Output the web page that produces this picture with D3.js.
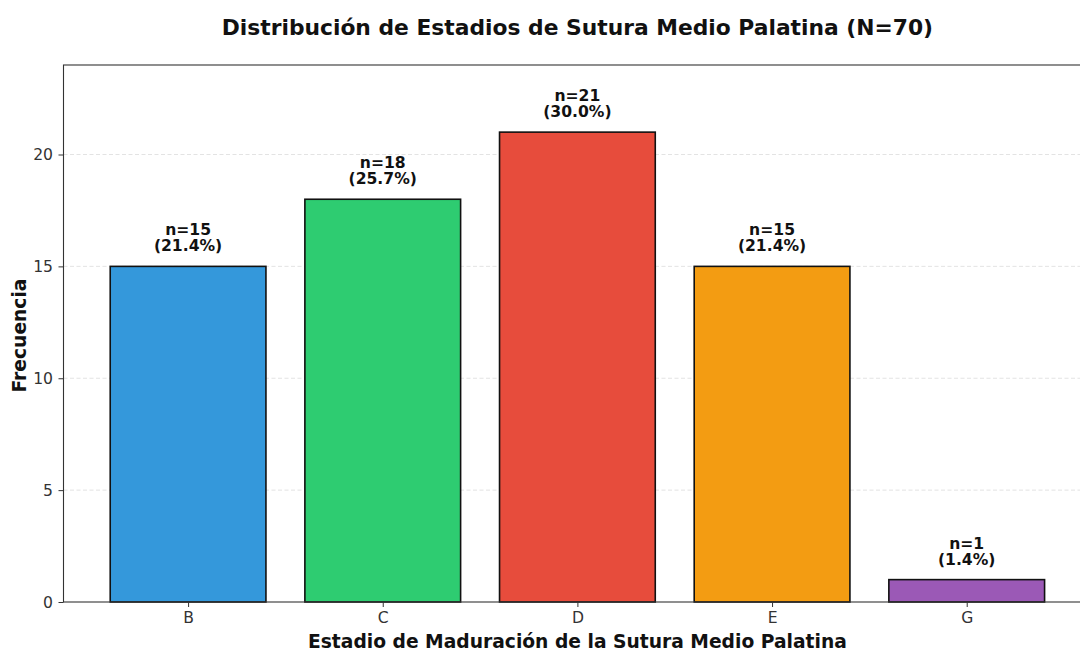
<!DOCTYPE html>
<html>
<head>
<meta charset="utf-8">
<script src="https://cdn.jsdelivr.net/npm/d3@7"></script>
<style>
html,body{margin:0;padding:0;background:#fff;overflow:hidden;}
svg{display:block;}
</style>
</head>
<body>
<div id="chart"></div>
<script>
const categories = ["B", "C", "D", "E", "G"];
const counts = [15, 18, 21, 15, 1];
const percents = ["21.4%", "25.7%", "30.0%", "21.4%", "1.4%"];
const colors = ["#3498db", "#2ecc71", "#e74c3c", "#f39c12", "#9b59b6"];
const yTicks = [0, 5, 10, 15, 20];
const title = "Distribución de Estadios de Sutura Medio Palatina (N=70)";
const xTitle = "Estadio de Maduración de la Sutura Medio Palatina";
const yTitle = "Frecuencia";

const W = 1080, H = 652;
const m = {left: 63.5, right: 1091.3, top: 65, bottom: 602};
const font = "'DejaVu Sans', sans-serif";

const svg = d3.select("#chart").append("svg").attr("width", W).attr("height", H);

const x = d3.scaleLinear().domain([-0.64, categories.length - 1 + 0.64]).range([m.left, m.right]);
const y = d3.scaleLinear().domain([0, 24]).range([m.bottom, m.top]);
const bw = x(0.8) - x(0);

// grid
svg.append("g").selectAll("line").data(yTicks.filter(d => d > 0)).join("line")
  .attr("x1", m.left).attr("x2", m.right)
  .attr("y1", d => y(d)).attr("y2", d => y(d))
  .attr("stroke", "#b0b0b0").attr("stroke-opacity", 0.4)
  .attr("stroke-width", 0.9).attr("stroke-dasharray", "4,2.5");

// bars
svg.append("g").selectAll("rect").data(counts).join("rect")
  .attr("x", (d, i) => x(i) - bw / 2)
  .attr("y", d => y(d))
  .attr("width", bw)
  .attr("height", d => y(0) - y(d))
  .attr("fill", (d, i) => colors[i])
  .attr("stroke", "#111").attr("stroke-width", 1.6);

// annotations
const ann = svg.append("g").attr("font-family", font).attr("font-weight", "bold")
  .attr("font-size", 15.6).attr("fill", "#111").attr("text-anchor", "middle");
counts.forEach((d, i) => {
  ann.append("text").attr("x", x(i)).attr("y", y(d) - 31).text("n=" + d);
  ann.append("text").attr("x", x(i)).attr("y", y(d) - 15).text("(" + percents[i] + ")");
});

// axes
const xAxis = d3.axisBottom(x).tickValues(d3.range(categories.length))
  .tickFormat(i => categories[i]).tickSize(5).tickPadding(5);
const gx = svg.append("g").attr("transform", `translate(0,${m.bottom})`).call(xAxis);
const yAxis = d3.axisLeft(y).tickValues(yTicks).tickSize(5).tickPadding(5.5);
const gy = svg.append("g").attr("transform", `translate(${m.left},0)`).call(yAxis);
[gx, gy].forEach(g => {
  g.select(".domain").remove();
  g.selectAll(".tick line").attr("stroke", "#333").attr("stroke-width", 1);
  g.selectAll(".tick text").attr("font-family", font).attr("font-size", 15.6).attr("fill", "#333");
});

// spines
svg.append("rect").attr("x", m.left).attr("y", m.top)
  .attr("width", m.right - m.left).attr("height", m.bottom - m.top)
  .attr("fill", "none").attr("stroke", "#333").attr("stroke-width", 1.1);

// titles
svg.append("text").attr("x", (m.left + m.right) / 2).attr("y", 35)
  .attr("text-anchor", "middle").attr("font-family", font).attr("font-weight", "bold")
  .attr("font-size", 21.8).attr("fill", "#111").text(title);
svg.append("text").attr("x", (m.left + m.right) / 2).attr("y", 648)
  .attr("text-anchor", "middle").attr("font-family", font).attr("font-weight", "bold")
  .attr("font-size", 18.7).attr("fill", "#111").text(xTitle);
svg.append("text").attr("transform", `translate(26,${(m.top + m.bottom) / 2 + 2}) rotate(-90)`)
  .attr("text-anchor", "middle").attr("font-family", font).attr("font-weight", "bold")
  .attr("font-size", 18.7).attr("fill", "#111").text(yTitle);
</script>
</body>
</html>
